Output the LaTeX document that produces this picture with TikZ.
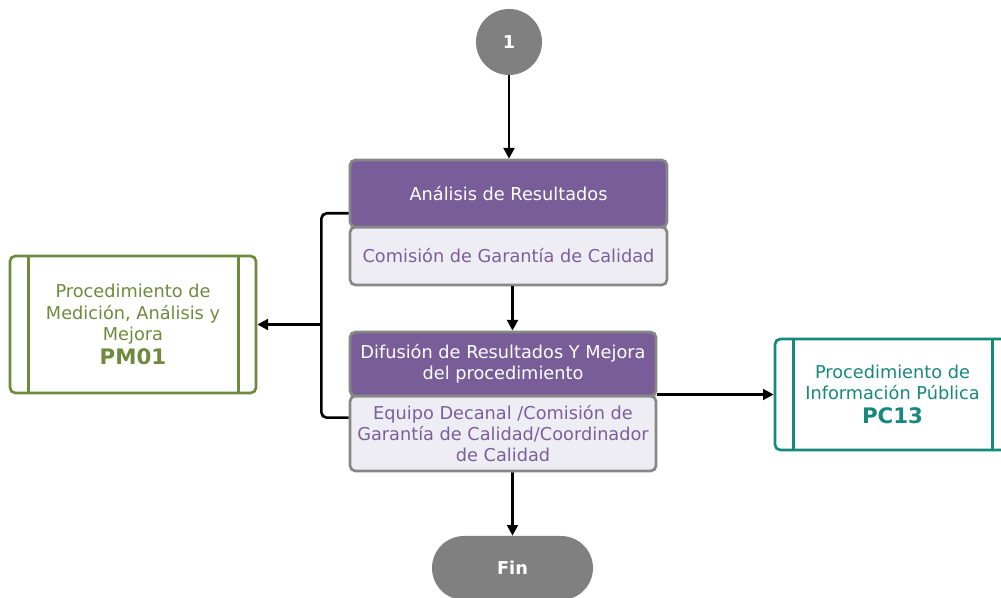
\documentclass[tikz,border=0pt]{standalone}
\usepackage{fontspec}
\setmainfont{DejaVu Sans}
\usetikzlibrary{arrows.meta,calc,positioning,shapes.misc}
\definecolor{headpurple}{HTML}{795D98}
\definecolor{rolepurple}{HTML}{7B5F9B}
\definecolor{rolefill}{HTML}{EFEDF4}
\definecolor{boxgray}{HTML}{878787}
\definecolor{termgray}{HTML}{808080}
\definecolor{procgreen}{HTML}{6E8B3D}
\definecolor{procteal}{HTML}{16887E}
\newcommand{\procode}{\fontsize{16}{19}\selectfont\bfseries}
\tikzset{
    txt/.style={font=\fontsize{13.3}{16}\selectfont},
    head/.style={txt, draw=boxgray, fill=headpurple, text=white, line width=2pt,
        rounded corners=4pt, align=center, inner sep=0pt, minimum width=#1},
    role/.style={txt, draw=boxgray, fill=rolefill, text=rolepurple, line width=2pt,
        rounded corners=4pt, align=center, inner sep=0pt, minimum width=#1},
    proc/.style={txt, draw=#1, text=#1, fill=white, line width=2pt,
        rounded corners=4pt, align=center, inner sep=0pt},
    term/.style={fill=termgray, text=white, inner sep=0pt,
        font=\fontsize{13.3}{16}\selectfont\bfseries},
    flow/.style={line width=2pt, -{Triangle[length=8pt,width=8pt]}}
}
\begin{document}
\begin{tikzpicture}[x=0.75pt, y=-0.75pt]
    \useasboundingbox (0, 0) rectangle (1001, 598);
    % start and end
    \node[term, circle, minimum size=49.5pt] (start) at (509, 42) {1};
    \node[term, rounded rectangle, minimum width=120.75pt, minimum height=48pt] (fin) at (512.5, 568) {Fin};
    % activities
    \node[role={237.75pt}, minimum height=43.5pt] (rol1) at (508.5, 256) {Comisión de Garantía de Calidad};
    \node[head={237.75pt}, minimum height=50.25pt] (act1) at (508.5, 193.5) {Análisis de Resultados};
    \node[role={229.5pt}, minimum height=56.25pt] (rol2) at (503, 433.5)
        {Equipo Decanal /Comisión de\\Garantía de Calidad/Coordinador\\de Calidad};
    \node[head={229.5pt}, minimum height=48pt] (act2) at (503, 364)
        {Difusión de Resultados Y Mejora\\del procedimiento};
    % related procedures
    \node[proc=procgreen, minimum width=184.5pt, minimum height=102.75pt] (pm) at (133, 324.5)
        {Procedimiento de\\Medición, Análisis y\\Mejora\\[2pt]{\procode PM01}};
    \node[proc=procteal, minimum width=176.25pt, minimum height=83.25pt] (pc) at (892.5, 394.5)
        {Procedimiento de\\Información Pública\\[2pt]{\procode PC13}};
    \foreach \p/\c in {pm/procgreen, pc/procteal} {
        \draw[\c, line width=2pt] ([xshift=15pt]\p.north west) -- ([xshift=15pt]\p.south west);
        \draw[\c, line width=2pt] ([xshift=-14.25pt]\p.north east) -- ([xshift=-14.25pt]\p.south east);
    }
    % connectors
    \draw[flow] (start) -- (start |- act1.north);
    \draw[flow] (rol1.south -| fin) -- (act2.north -| fin);
    \draw[flow] (rol2.south -| fin) -- (fin);
    \draw[flow] (pc.west -| act2.east) -- (pc.west);
    \coordinate (brace) at ($(pm.east)+(64, 0)$);
    \draw[line width=2pt, rounded corners=4pt]
        ($(act1.south west)+(0, -15)$) -| (brace) |- ($(rol2.north west)+(0, 23)$);
    \draw[flow] (brace) -- (pm);
\end{tikzpicture}
\end{document}
